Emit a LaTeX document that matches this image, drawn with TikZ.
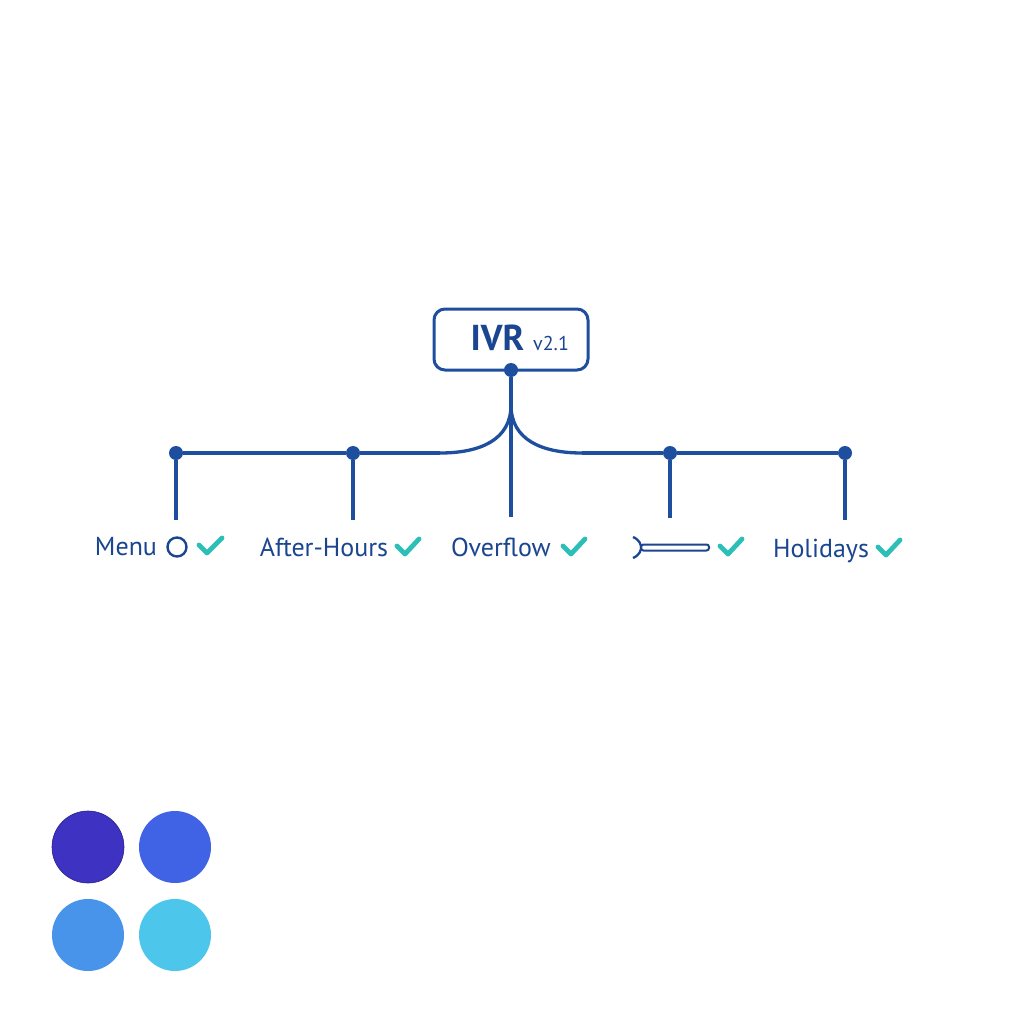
\documentclass[tikz,border=0pt]{standalone}
\usepackage{fontspec}
\setmainfont{PT Sans}
\definecolor{navy}{HTML}{1E4F9E}
\definecolor{txt}{HTML}{1A4590}
\definecolor{teal}{HTML}{2CBFB7}
\definecolor{cA}{HTML}{3D32C2}
\definecolor{cB}{HTML}{4063E6}
\definecolor{cC}{HTML}{4894EA}
\definecolor{cD}{HTML}{4CC7EB}
\tikzset{
  wire/.style={draw=navy, line width=3.3pt},
  joint/.style={circle, fill=navy, inner sep=0pt, minimum size=14pt},
  lbl/.style={text=txt, font=\fontsize{26}{28}\selectfont, inner sep=0pt, anchor=base},
  tick/.style={draw=teal, line width=4.8pt, line cap=round, line join=round},
  blob/.style={circle, inner sep=0pt, minimum size=72pt},
}
\begin{document}
\begin{tikzpicture}[x=1pt,y=-1pt]
\useasboundingbox[fill=white] (0,0) rectangle (1024,1024);
% root box
\node[draw=navy, line width=3pt, rounded corners=11pt, minimum width=154pt, minimum height=61pt, inner sep=0pt] (root) at (511,339.5) {};
\node[text=txt, font=\bfseries\fontsize{36}{40}\selectfont, inner sep=0pt, anchor=base] (ivr) at (497.5,350) {IVR};
\node[text=txt, font=\fontsize{20}{22}\selectfont, inner sep=0pt, anchor=base west] (ver) at (533,350) {v2.1};
\node[joint] (rd) at (511,370) {};
% trunk
\coordinate (tb) at (511,517);
\coordinate (split) at (511,405);
\coordinate (cl) at (440,453);
\coordinate (cr) at (582,453);
\draw[wire] (rd) -- (tb);
\draw[wire] (split) .. controls (511,440) and (480,453) .. (cl);
\draw[wire] (split) .. controls (511,440) and (542,453) .. (cr);
% bus
\node[joint] (d1) at (176,453) {};
\node[joint] (d2) at (353,453) {};
\node[joint] (d4) at (670,453) {};
\node[joint] (d5) at (845,453) {};
\draw[wire] (d1) -- (d2) -- (cl);
\draw[wire] (cr) -- (d4) -- (d5);
\coordinate (e1) at (176,520);
\coordinate (e2) at (353,520);
\coordinate (e4) at (670,518);
\coordinate (e5) at (845,520);
\draw[wire] (d1) -- (e1);
\draw[wire] (d2) -- (e2);
\draw[wire] (d4) -- (e4);
\draw[wire] (d5) -- (e5);
% labels
\node[lbl] (l1) at (126,555) {Menu};
\node[draw=txt, line width=2.4pt, circle, minimum size=19pt, inner sep=0pt] (o1) at (177,547) {};
\node[lbl] (l2) at (324,556) {After-Hours};
\node[lbl] (l3) at (501,556) {Overflow};
\node[lbl] (l5) at (821,557) {Holidays};
% odd glyph
\draw[draw=txt, line width=2.3pt] (633,537) .. controls (640,540) and (641,545) .. (641,547.5) .. controls (641,550) and (640,555) .. (633,558);
\draw[draw=txt, line width=2pt, rounded corners=2.5pt] (641,544.5) rectangle (709,550.5);
% ticks
\draw[tick] (199,545) -- (207,553) -- (222,538);
\draw[tick] (397,546) -- (405,554) -- (419,539);
\draw[tick] (563,546) -- (571,554) -- (585,539);
\draw[tick] (720,546) -- (728,554) -- (742,539);
\draw[tick] (878,547) -- (886,555) -- (900,540);
% colour dots
\node[blob, fill=cA, draw=cA!70!black, line width=0.6pt] (b1) at (88,847) {};
\node[blob, fill=cB] (b2) at (175,847) {};
\node[blob, fill=cC] (b3) at (88,935) {};
\node[blob, fill=cD] (b4) at (175,935) {};
\end{tikzpicture}
\end{document}
